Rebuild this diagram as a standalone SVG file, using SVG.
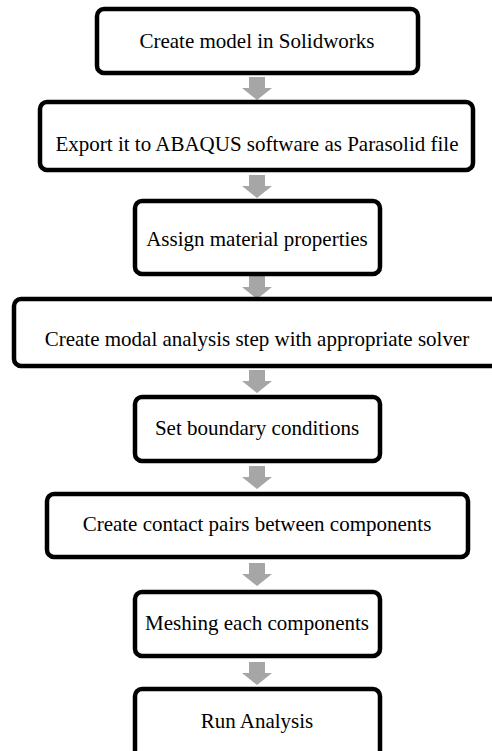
<svg xmlns="http://www.w3.org/2000/svg" width="492" height="751" viewBox="0 0 492 751">
<defs>
<style>
.box{fill:#ffffff;stroke:#000000;stroke-width:4.5}
.lbl{font-family:"Liberation Serif","Times New Roman",serif;font-size:21px;fill:#000000;text-anchor:middle}
.arr{fill:#a6a6a6}
</style>
<path id="dn" class="arr" d="M-8,0 H8 V11 H15 L0,23 L-15,11 H-8 Z"/>
</defs>
<rect width="492" height="751" fill="#ffffff"/>
<g id="connectors">
<use href="#dn" x="257" y="77"/>
<use href="#dn" x="257" y="175"/>
<use href="#dn" x="257" y="276" transform="translate(0,0)"/>
<use href="#dn" x="257" y="370"/>
<use href="#dn" x="257" y="466"/>
<use href="#dn" x="257" y="563"/>
<use href="#dn" x="257" y="662"/>
</g>
<g id="n1"><rect class="box" x="97" y="9" width="321" height="64" rx="7"/><text class="lbl" x="257" y="48">Create model in Solidworks</text></g>
<g id="n2"><rect class="box" x="40" y="102" width="433" height="68" rx="7"/><text class="lbl" x="257" y="151">Export it to ABAQUS software as Parasolid file</text></g>
<g id="n3"><rect class="box" x="135" y="201" width="245" height="73" rx="7"/><text class="lbl" x="257" y="246">Assign material properties</text></g>
<g id="n4"><rect class="box" x="14" y="299" width="490" height="67" rx="7"/><text class="lbl" x="257" y="346">Create modal analysis step with appropriate solver</text></g>
<g id="n5"><rect class="box" x="135" y="397" width="245" height="64" rx="7"/><text class="lbl" x="257" y="435">Set boundary conditions</text></g>
<g id="n6"><rect class="box" x="47" y="494" width="421" height="63" rx="7"/><text class="lbl" x="257" y="531">Create contact pairs between components</text></g>
<g id="n7"><rect class="box" x="135" y="592" width="245" height="64" rx="7"/><text class="lbl" x="257" y="630">Meshing each components</text></g>
<g id="n8"><rect class="box" x="135" y="689" width="245" height="80" rx="7"/><text class="lbl" x="257" y="728">Run Analysis</text></g>
</svg>
